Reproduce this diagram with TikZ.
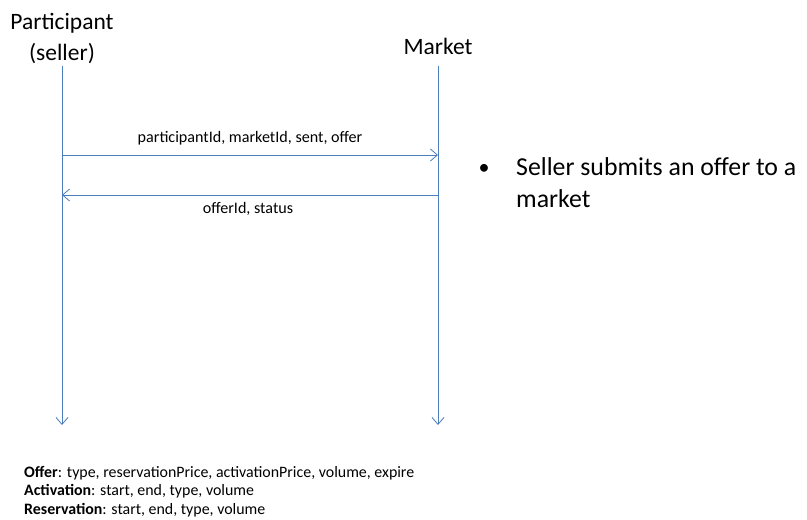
\documentclass[tikz,border=0pt]{standalone}
\usepackage{fontspec}
\setmainfont{Carlito}
\usetikzlibrary{arrows.meta}
\definecolor{lineblue}{HTML}{4A7EBB}
\tikzset{
  life/.style={draw=lineblue, line width=0.8pt, -{Straight Barb[length=7pt,width=12pt,line width=0.8pt]}},
  msg/.style={draw=lineblue, line width=0.8pt, -{Straight Barb[length=7pt,width=12pt,line width=0.8pt]}},
  head/.style={font=\fontsize{23.5}{29}\selectfont, align=center, inner sep=0pt},
  lbl/.style={font=\fontsize{16.1}{18}\selectfont, inner sep=0pt},
  note/.style={font=\fontsize{15.9}{18.6}\selectfont, inner sep=0pt, anchor=base west},
  bullet/.style={font=\fontsize{25.8}{32}\selectfont, inner sep=0pt, anchor=base west}
}
\begin{document}
\begin{tikzpicture}[x=1pt,y=-1pt]
\useasboundingbox (0,0) rectangle (807,520);
\node[head, anchor=base] (p1) at (62,29) {Participant};
\node[head, anchor=base] (p2) at (62,60) {(seller)};
\node[head, anchor=base] (m) at (438,54) {Market};
\coordinate (lt) at (62,66);
\coordinate (lb) at (62,425);
\coordinate (rt) at (438,66);
\coordinate (rb) at (438,425);
\draw[life] (lt) -- (lb);
\draw[life] (rt) -- (rb);
\coordinate (a1) at (62,155);
\coordinate (b1) at (438,155);
\coordinate (a2) at (438,195);
\coordinate (b2) at (62,195);
\draw[msg] (a1) -- (b1);
\draw[msg] (a2) -- (b2);
\node[lbl, anchor=base] (l1) at (250,142) {participantId, marketId, sent, offer};
\node[lbl, anchor=base] (l2) at (248,213) {offerId, status};
\node[bullet] (bt) at (516,175) {Seller submits an offer to a};
\node[bullet] (bt2) at (516,207) {market};
\node[bullet, anchor=base, font=\fontsize{22}{26}\selectfont] (bd) at (484,174) {•};
\node[note] (n1) at (24,477) {\textbf{Offer}: type, reservationPrice, activationPrice, volume, expire};
\node[note] (n2) at (24,495.5) {\textbf{Activation}: start, end, type, volume};
\node[note] (n3) at (24,514) {\textbf{Reservation}: start, end, type, volume};
\end{tikzpicture}
\end{document}
